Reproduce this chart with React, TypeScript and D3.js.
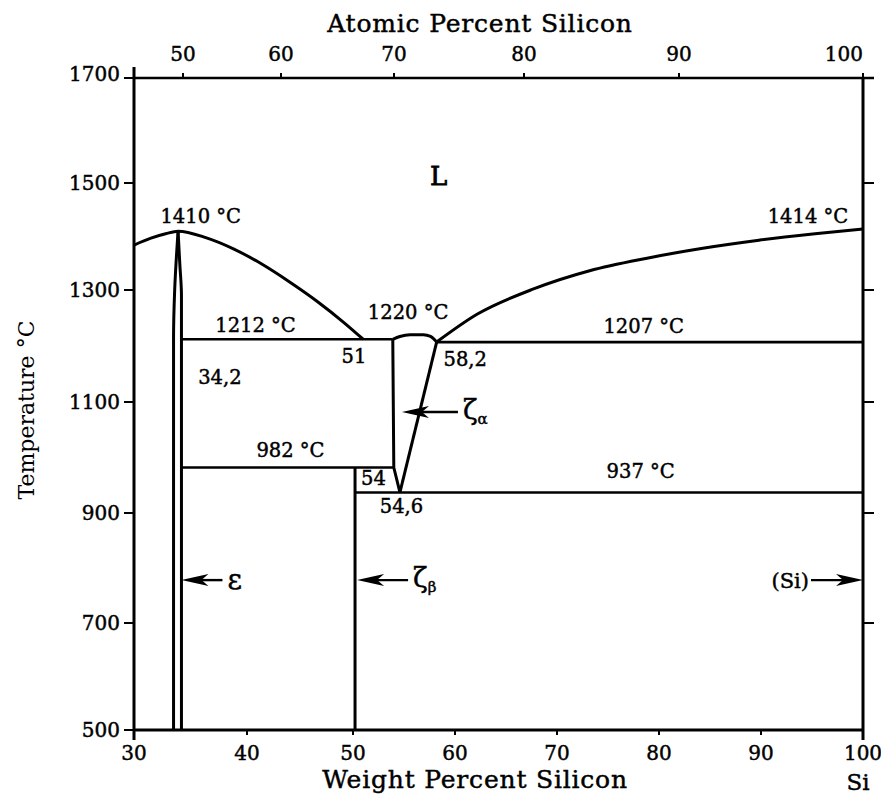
import React from 'react';
import * as d3 from 'd3';

// Fe–Si phase diagram, silicon-rich side (30–100 wt% Si)

const W = 881;
const H = 796;

// axis ticks
const wtTicks = [30, 40, 50, 60, 70, 80, 90, 100];
const atTicks = [50, 60, 70, 80, 90, 100];
const tempTicks = [500, 700, 900, 1100, 1300, 1500, 1700];

// liquidus: Fe side → FeSi maximum (1410 °C) → eutectic 1212 °C at 51 wt%
const liqLeftWt = [30, 31.5, 32.8, 33.9, 36.35, 38.8, 41.35, 43.95, 46.6, 49.2, 51];
const liqLeftT = [1384, 1397, 1405, 1410, 1398, 1377, 1349, 1316, 1280, 1241, 1212];

// liquidus: eutectic 1207 °C at 58.2 wt% → Si melting point 1414 °C
const liqRightWt = [58.2, 62.2, 67.7, 73.2, 78.7, 84.3, 89.8, 95.3, 100];
const liqRightT = [1207, 1257, 1302, 1336, 1359, 1378, 1393, 1405, 1414];

// ζα congruent maximum (1220 °C)
const domeWt = [53.9, 54.6, 55.6, 56.9, 57.6, 58.2];
const domeT = [1212, 1217, 1220, 1220, 1217, 1207];

// ε (FeSi) phase boundaries
const epsLeftWt = [33.9, 33.6, 33.5, 33.5];
const epsLeftT = [1410, 1300, 1212, 500];
const epsRightWt = [33.9, 34.05, 34.2, 34.2];
const epsRightT = [1410, 1350, 1290, 500];

// ζα boundaries
const zetaALeftWt = [53.9, 54.0, 54.6];
const zetaALeftT = [1212, 982, 937];
const zetaARightWt = [58.2, 54.6];
const zetaARightT = [1207, 937];

// ζβ line composition
const zetaBWt = 50.2;

// invariant horizontals: [from wt, to wt, temperature]
const isoFrom = [34.2, 34.2, 50.2, 58.2];
const isoTo = [53.9, 54.0, 100, 100];
const isoT = [1212, 982, 937, 1207];

// scales (calibrated to the drawn tick marks)
const x = d3.scaleLinear().domain(wtTicks).range([134, 247, 353, 455, 557, 659, 761, 863]);
const y = d3.scaleLinear().domain(tempTicks).range([730, 623, 513, 402, 290, 183, 78]);
const xAt = d3.scaleLinear().domain(atTicks).range([183, 281, 394, 524, 679, 863]);

type Pt = [number, number];
const zip = (a: number[], b: number[]): Pt[] => a.map((v, i) => [v, b[i]]);

const straight = d3.line<Pt>().x((d) => x(d[0])).y((d) => y(d[1]));
const smooth = d3
  .line<Pt>()
  .x((d) => x(d[0]))
  .y((d) => y(d[1]))
  .curve(d3.curveMonotoneX);
const smoothY = d3
  .line<Pt>()
  .x((d) => x(d[0]))
  .y((d) => y(d[1]))
  .curve(d3.curveMonotoneY);

// text annotations in diagram coordinates
const notes = [
  { text: '1410 °C', wt: 35.9, t: 1425 },
  { text: '1414 °C', wt: 94.6, t: 1425 },
  { text: '1212 °C', wt: 40.8, t: 1225 },
  { text: '1220 °C', wt: 55.4, t: 1249 },
  { text: '1207 °C', wt: 78.5, t: 1223 },
  { text: '51', wt: 50.1, t: 1170 },
  { text: '34,2', wt: 37.6, t: 1132 },
  { text: '58,2', wt: 61.0, t: 1164 },
  { text: '982 °C', wt: 44.1, t: 1001 },
  { text: '54', wt: 52.0, t: 951 },
  { text: '54,6', wt: 54.75, t: 900 },
  { text: '937 °C', wt: 78.2, t: 963 },
];

// phase pointers: tip position, direction (-1 points left, 1 points right)
const pointers = [
  { wt: 34.2, t: 778, dir: -1, len: 41, label: 'ε', sub: '' },
  { wt: 50.4, t: 778, dir: -1, len: 51, label: 'ζ', sub: 'β' },
  { wt: 54.8, t: 1082, dir: -1, len: 56, label: 'ζ', sub: 'α' },
  { wt: 100, t: 778, dir: 1, len: 52, label: '(Si)', sub: '' },
];

const ink = { fill: '#000', stroke: '#000', strokeWidth: 0.45 };

function Pointer({ p }: { p: (typeof pointers)[number] }) {
  const tx = x(p.wt);
  const ty = y(p.t);
  const d = p.dir;
  const head = `M${tx},${ty} L${tx - d * 27},${ty - 6} L${tx - d * 20},${ty} L${tx - d * 27},${ty + 6} Z`;
  const tail = tx - d * p.len;
  const isGreek = p.label !== '(Si)';
  return (
    <g>
      <line x1={tx - d * 18} y1={ty} x2={tail} y2={ty} stroke="#000" strokeWidth={2.4} />
      <path d={head} fill="#000" />
      {isGreek ? (
        <text
          x={tail + 5}
          y={ty + (p.label === 'ε' ? 9 : 7)}
          fontSize={p.label === 'ε' ? 28 : 27}
          {...ink}
        >
          {p.label}
          {p.sub && (
            <tspan fontSize={15} dy={5}>
              {p.sub}
            </tspan>
          )}
        </text>
      ) : (
        <text x={tail - 2} y={ty + 8} fontSize={21} textAnchor="end" {...ink}>
          {p.label}
        </text>
      )}
    </g>
  );
}

export default function App() {
  const x0 = x(30);
  const x1 = x(100);
  const yBot = y(500);
  const yTop = y(1700);
  const stroke = { stroke: '#000', fill: 'none', strokeWidth: 3 };

  return (
    <svg
      width={W}
      height={H}
      style={{ position: 'absolute', left: 0, top: 0, background: '#fff' }}
      fontFamily="'DejaVu Serif', serif"
      fill="#000"
    >
      {/* frame */}
      <line x1={x0} y1={67} x2={x0} y2={740} stroke="#000" strokeWidth={3} />
      <line x1={x1} y1={yTop} x2={x1} y2={740} stroke="#000" strokeWidth={3} />
      <line x1={x0} y1={yBot} x2={x1} y2={yBot} stroke="#000" strokeWidth={3} />
      <line x1={x0} y1={yTop} x2={874} y2={yTop} stroke="#000" strokeWidth={2.5} />

      {/* left temperature axis */}
      {tempTicks.map((t) => (
        <g key={'l' + t}>
          <line x1={x0 - 10} y1={y(t)} x2={x0} y2={y(t)} stroke="#000" strokeWidth={2} />
          <text
            x={x0 - 14}
            y={t === 1700 ? y(t) + 3 : y(t) + 7}
            fontSize={20}
            textAnchor="end"
            {...ink}
          >
            {t}
          </text>
        </g>
      ))}
      {/* right-side ticks */}
      {tempTicks.slice(1, -1).map((t) => (
        <line key={'r' + t} x1={x1} y1={y(t)} x2={x1 + 11} y2={y(t)} stroke="#000" strokeWidth={2} />
      ))}

      {/* bottom weight-percent axis */}
      {wtTicks.map((v) => (
        <g key={'b' + v}>
          <line x1={x(v)} y1={yBot} x2={x(v)} y2={yBot + 5} stroke="#000" strokeWidth={2} />
          <text x={x(v)} y={760} fontSize={20} textAnchor="middle" {...ink}>
            {v}
          </text>
        </g>
      ))}

      {/* top atomic-percent axis */}
      {atTicks.map((v, i) => (
        <g key={'t' + v}>
          <line x1={xAt(v)} y1={yTop} x2={xAt(v)} y2={yTop - 5} stroke="#000" strokeWidth={2} />
          <text
            x={xAt(v)}
            y={61}
            fontSize={20}
            textAnchor={i === atTicks.length - 1 ? 'end' : 'middle'}
            {...ink}
          >
            {v}
          </text>
        </g>
      ))}

      {/* axis titles */}
      <text x={480} y={32} fontSize={25} letterSpacing={0.8} textAnchor="middle" {...ink}>
        Atomic Percent Silicon
      </text>
      <text x={475} y={788} fontSize={25} letterSpacing={0.8} textAnchor="middle" {...ink}>
        Weight Percent Silicon
      </text>
      <text x={858} y={790} fontSize={23} textAnchor="middle" {...ink}>
        Si
      </text>
      <text transform="translate(34,410) rotate(-90)" fontSize={22} textAnchor="middle">
        Temperature °C
      </text>

      {/* phase boundaries */}
      <path d={smooth(zip(liqLeftWt, liqLeftT)) || ''} {...stroke} />
      <path d={smooth(zip(liqRightWt, liqRightT)) || ''} {...stroke} />
      <path d={smooth(zip(domeWt, domeT)) || ''} {...stroke} />
      <path d={smoothY(zip(epsLeftWt, epsLeftT)) || ''} {...stroke} />
      <path d={smoothY(zip(epsRightWt, epsRightT)) || ''} {...stroke} />
      <path d={straight(zip(zetaALeftWt, zetaALeftT)) || ''} {...stroke} strokeLinejoin="round" />
      <path d={straight(zip(zetaARightWt, zetaARightT)) || ''} {...stroke} />
      <line x1={x(zetaBWt)} y1={y(982)} x2={x(zetaBWt)} y2={yBot} stroke="#000" strokeWidth={3} />
      {isoT.map((t, i) => (
        <line
          key={'iso' + i}
          x1={x(isoFrom[i])}
          y1={y(t)}
          x2={x(isoTo[i])}
          y2={y(t)}
          stroke="#000"
          strokeWidth={2.6}
        />
      ))}

      {/* labels */}
      <text x={x(58.4)} y={y(1496)} fontSize={26} textAnchor="middle" {...ink} strokeWidth={0.8}>
        L
      </text>
      {notes.map((n) => (
        <text
          key={n.text}
          x={x(n.wt)}
          y={y(n.t)}
          fontSize={19.5}
          textAnchor="middle"
          {...ink}
        >
          {n.text}
        </text>
      ))}
      {pointers.map((p, i) => (
        <Pointer key={i} p={p} />
      ))}
    </svg>
  );
}
